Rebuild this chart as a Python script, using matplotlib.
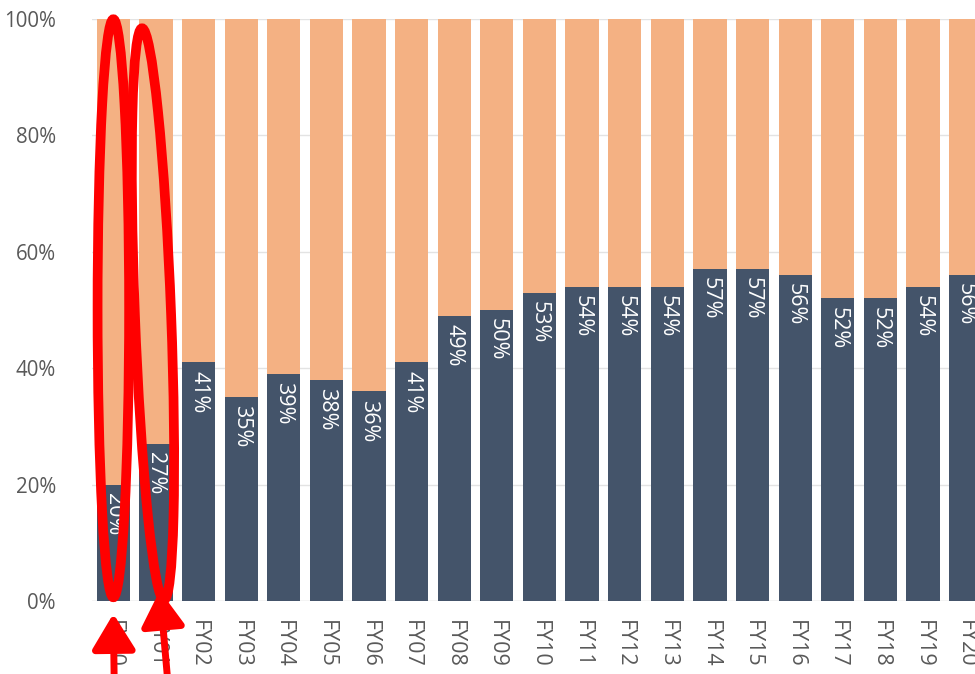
import matplotlib
matplotlib.use("Agg")
import matplotlib.pyplot as plt
from matplotlib.patches import Ellipse
from matplotlib.ticker import FuncFormatter

plt.rcParams['font.family'] = ['Open Sans', 'DejaVu Sans']

years = ["FY00", "FY01", "FY02", "FY03", "FY04", "FY05", "FY06", "FY07", "FY08", "FY09",
         "FY10", "FY11", "FY12", "FY13", "FY14", "FY15", "FY16", "FY17", "FY18", "FY19", "FY20"]
share = [20, 27, 41, 35, 39, 38, 36, 41, 49, 50, 53, 54, 54, 54, 57, 57, 56, 52, 52, 54, 56]
rest = [100 - v for v in share]

dark = "#44546A"
orange = "#F4B183"

fig = plt.figure(figsize=(9.75, 6.74), dpi=100)
ax = fig.add_axes([0.0944, 0.1083, 0.9056, 0.8635])

x = list(range(len(years)))
ax.bar(x, share, width=0.78, color=dark, zorder=2)
ax.bar(x, rest, bottom=share, width=0.78, color=orange, zorder=2)

for xi, v in zip(x, share):
    ax.text(xi, v - 1.4, f"{v}%", rotation=270, ha="center", va="top",
            color="white", fontsize=15.5, zorder=3)

ax.set_xlim(-0.5, 20.22)
ax.set_ylim(0, 100)
ax.set_yticks([0, 20, 40, 60, 80, 100])
ax.yaxis.set_major_formatter(FuncFormatter(lambda v, p: f"{int(v)}%"))
ax.set_xticks(x)
ax.set_xticklabels(years, rotation=270, color="#595959", fontsize=15.5)
ax.tick_params(axis="y", colors="#595959", labelsize=14.8, length=0, pad=26)
ax.tick_params(axis="x", length=0, pad=14)
for lbl in ax.get_yticklabels():
    lbl.set_ha("right")
ax.grid(axis="y", color="#E3E3E3", linewidth=1, zorder=0)
for s in ax.spines.values():
    s.set_visible(False)
ax.axhline(0, color="#E3E3E3", linewidth=1, zorder=1)

# red annotation marks
ax.add_patch(Ellipse((0.0, 50.3), 0.74, 99.3, fill=False, edgecolor="red",
                     linewidth=7, zorder=5, clip_on=False))
ax.add_patch(Ellipse((0.93, 49.3), 0.85, 98.2, angle=0.3, fill=False, edgecolor="red",
                     linewidth=7, zorder=5, clip_on=False))
ax.annotate("", xy=(0.0, -2.2), xytext=(0.02, -14),
            arrowprops=dict(arrowstyle="-|>,head_length=0.9,head_width=0.55", color="red",
                            lw=5, shrinkA=0, shrinkB=0, mutation_scale=24),
            annotation_clip=False, zorder=6)
ax.annotate("", xy=(1.09, 1.8), xytext=(1.28, -14),
            arrowprops=dict(arrowstyle="-|>,head_length=0.9,head_width=0.55", color="red",
                            lw=5, shrinkA=0, shrinkB=0, mutation_scale=24),
            annotation_clip=False, zorder=6)

fig.savefig("out.png", dpi=100)
